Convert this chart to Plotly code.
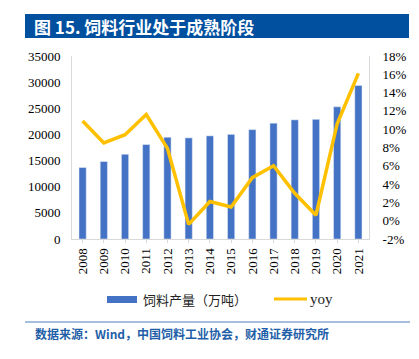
import plotly.graph_objects as go

years = ["2008", "2009", "2010", "2011", "2012", "2013", "2014", "2015",
         "2016", "2017", "2018", "2019", "2020", "2021"]
feed_output = [13667, 14813, 16202, 18063, 19449, 19340, 19727, 20009,
               20918, 22161, 22788, 22885, 25276, 29344]
yoy = [10.9, 8.5, 9.4, 11.6, 7.9, -0.4, 2.1, 1.5, 4.7, 6.0, 3.0, 0.6, 10.6, 16.1]

left_ticks = [0, 5000, 10000, 15000, 20000, 25000, 30000, 35000]
left_ticktext = ["0", "5000", "10000", "15000", "20000", "25000", "30000", "35000"]
right_ticks = [-2, 0, 2, 4, 6, 8, 10, 12, 14, 16, 18]
right_ticktext = ["-2%", "0%", "2%", "4%", "6%", "8%", "10%", "12%", "14%", "16%", "18%"]

title_text = "图 15. 饲料行业处于成熟阶段"
source_text = "数据来源：Wind，中国饲料工业协会，财通证券研究所"
legend_bar = "饲料产量（万吨）"
legend_line = "yoy"

OFF = 8  # browser body margin
W, H = 419 - OFF, 359 - OFF
L, R, T, B = 72 - OFF, 369 - OFF, 56 - OFF, 239 - OFF

def px(x):
    return (x - OFF - L) / (R - L)

def py(y):
    return (B - (y - OFF)) / (B - T)

BLUE = "#4472C4"
GOLD = "#FFC000"
SERIF = "Liberation Serif, Times New Roman, serif"
CJK = "Noto Sans CJK SC, sans-serif"

fig = go.Figure()
fig.add_trace(go.Bar(x=years, y=feed_output, marker_color=BLUE, width=0.34,
                     name=legend_bar, showlegend=False, yaxis="y"))
fig.add_trace(go.Scatter(x=years, y=yoy, mode="lines", line=dict(color=GOLD, width=3.5),
                         name=legend_line, showlegend=False, yaxis="y2"))

fig.update_layout(
    width=W, height=H,
    margin=dict(l=L, r=W - R, t=T, b=H - B, autoexpand=False),
    paper_bgcolor="white", plot_bgcolor="white",
    showlegend=False,
    xaxis=dict(type="category", showline=True, linecolor="#d9d9d9", linewidth=1,
               tickangle=-90, tickfont=dict(family=SERIF, size=13, color="#000"),
               ticks="outside", ticklen=3, tickcolor="#d9d9d9", showgrid=False,
               automargin=False),
    yaxis=dict(range=[0, 35000], tickvals=left_ticks, ticktext=left_ticktext,
               showgrid=False, zeroline=False, automargin=False,
               showline=True, linecolor="#d9d9d9", linewidth=1,
               tickfont=dict(family=SERIF, size=13, color="#000"), ticklabelstandoff=8),
    yaxis2=dict(range=[-2, 18], overlaying="y", side="right", tickvals=right_ticks,
                ticktext=right_ticktext, showgrid=False, zeroline=False, automargin=False,
                showline=True, linecolor="#d9d9d9", linewidth=1,
                tickfont=dict(family=SERIF, size=13, color="#000"), ticklabelstandoff=10),
)

# title bar
fig.add_shape(type="rect", xref="paper", yref="paper",
              x0=px(25), x1=px(409), y0=py(38), y1=py(14),
              fillcolor="#0050A0", line=dict(width=0), layer="below")
fig.add_annotation(text="<b>" + title_text + "</b>", xref="paper", yref="paper",
                   x=px(32), y=py(26), xanchor="left", yanchor="middle", showarrow=False,
                   font=dict(family=CJK, size=17, color="white"))

# manual legend
fig.add_shape(type="rect", xref="paper", yref="paper",
              x0=px(107), x1=px(137), y0=py(303), y1=py(296),
              fillcolor=BLUE, line=dict(width=0))
fig.add_annotation(text=legend_bar, xref="paper", yref="paper",
                   x=px(141), y=py(299), xanchor="left", yanchor="middle", showarrow=False,
                   font=dict(family=CJK, size=13, color="#222"))
fig.add_shape(type="line", xref="paper", yref="paper",
              x0=px(274), x1=px(307), y0=py(299), y1=py(299),
              line=dict(color=GOLD, width=3))
fig.add_annotation(text=legend_line, xref="paper", yref="paper",
                   x=px(308), y=py(299), xanchor="left", yanchor="middle", showarrow=False,
                   font=dict(family=SERIF, size=15, color="#222"))

# separator and source
fig.add_shape(type="line", xref="paper", yref="paper",
              x0=px(25), x1=px(410), y0=py(322), y1=py(322),
              line=dict(color="#4a7ebb", width=1))
fig.add_annotation(text="<b>" + source_text + "</b>", xref="paper", yref="paper",
                   x=px(33), y=py(333), xanchor="left", yanchor="middle", showarrow=False,
                   font=dict(family=CJK, size=12, color="#1f5fa8"))

fig.write_html("out.html")
